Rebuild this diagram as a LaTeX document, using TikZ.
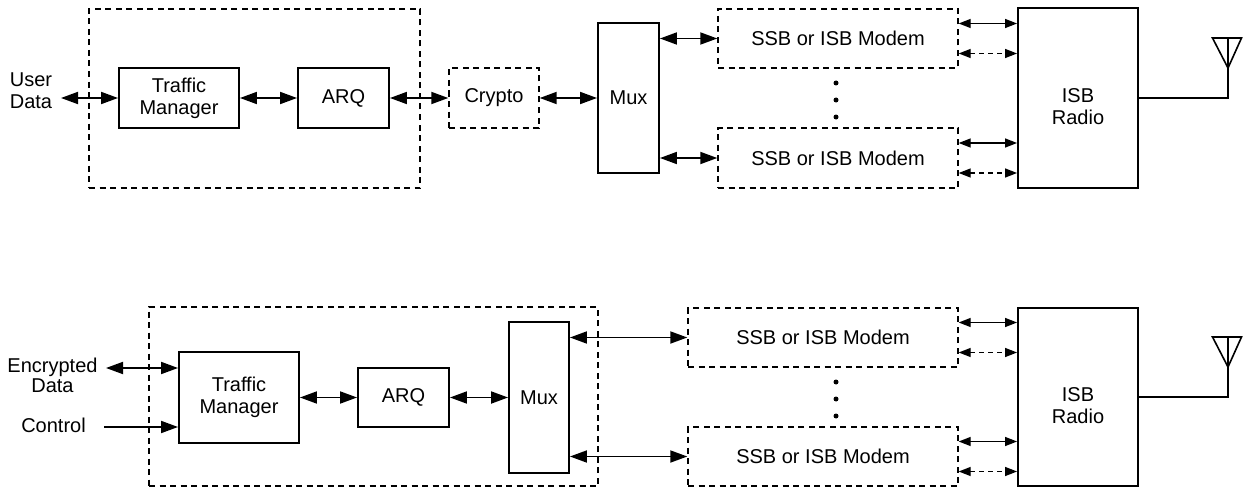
\documentclass[tikz,border=0pt]{standalone}
\usepackage{fontspec}
\setmainfont{Liberation Sans}
\usetikzlibrary{arrows.meta}
\tikzset{
  txt/.style={font=\fontsize{20}{22}\selectfont, align=center, inner sep=0pt},
  sbox/.style={draw, line width=1.9pt, txt},
  dbox/.style={draw, line width=1.4pt, dash pattern=on 6pt off 4.5pt, txt},
  bigarr/.style={line width=1.8pt, {Triangle[length=17pt,width=12pt]}-{Triangle[length=17pt,width=12pt]}},
  onearr/.style={line width=1.8pt, -{Triangle[length=17pt,width=12pt]}},
  smallarr/.style={line width=1.4pt, {Triangle[length=12pt,width=9pt]}-{Triangle[length=12pt,width=9pt]}},
  smalldarr/.style={smallarr, dash pattern=on 5pt off 4pt},
  wire/.style={line width=1.6pt},
  dotn/.style={circle, fill, inner sep=0pt, minimum size=5pt},
}
\begin{document}
\begin{tikzpicture}[x=1pt, y=-1pt]
\useasboundingbox (0,0) rectangle (1243,487);

% ---------------- top diagram ----------------
\node[dbox, minimum width=331, minimum height=179] (outer1) at (254.5,98.5) {};
\node[sbox, minimum width=120, minimum height=60] (tm1) at (179,98) {Traffic\\Manager};
\node[sbox, minimum width=91, minimum height=60] (arq1) at (343.5,98) {ARQ};
\node[dbox, minimum width=90, minimum height=60] (crypto) at (494,98) {Crypto};
\node[sbox, minimum width=61, minimum height=150] (mux1) at (628.5,98) {Mux};
\node[dbox, minimum width=240, minimum height=59] (modA1) at (838,38.5) {SSB or ISB Modem};
\node[dbox, minimum width=240, minimum height=60] (modB1) at (838,158) {SSB or ISB Modem};
\node[sbox, minimum width=120, minimum height=180,
      label={[txt, yshift=-8.5pt]center:ISB\\Radio}] (radio1) at (1078,98) {};
\node[txt] (user) at (31,90.5) {User\\Data};
\coordinate (ud) at (61,98);

\coordinate (a1s) at ([yshift=15pt]modA1.east);
\coordinate (a1d) at ([yshift=-15pt]modA1.east);
\coordinate (b1s) at ([yshift=15pt]modB1.east);
\coordinate (b1d) at ([yshift=-15pt]modB1.east);

\draw[bigarr] (ud) -- (tm1.west);
\draw[bigarr] (tm1.east) -- (arq1.west);
\draw[bigarr] (arq1.east) -- (crypto.west);
\draw[bigarr] (crypto.east) -- (mux1.west);
\draw[bigarr] (mux1.east |- modA1.west) -- (modA1.west);
\draw[bigarr] (mux1.east |- modB1.west) -- (modB1.west);
\draw[smallarr] (a1s) -- (radio1.west |- a1s);
\draw[smalldarr] (a1d) -- (radio1.west |- a1d);
\draw[smallarr] (b1s) -- (radio1.west |- b1s);
\draw[smalldarr] (b1d) -- (radio1.west |- b1d);

\node[dotn] (dA1) at (836,83) {};
\node[dotn] (dB1) at (836,100) {};
\node[dotn] (dC1) at (836,117) {};

\coordinate (ant1) at (1228,38);
\draw[wire] (radio1.east) -| (ant1);
\draw[wire, line join=miter] (1212.5,38) -- (1241.5,38) -- (1228,68) -- cycle;

% ---------------- bottom diagram ----------------
\node[dbox, minimum width=449, minimum height=179] (outer2) at (373.5,396.5) {};
\node[sbox, minimum width=120, minimum height=91] (tm2) at (239,397.5) {Traffic\\Manager};
\node[sbox, minimum width=91, minimum height=59] (arq2) at (403.5,397.5) {ARQ};
\node[sbox, minimum width=60, minimum height=151] (mux2) at (539,397.5) {Mux};
\node[dbox, minimum width=270, minimum height=59] (modA2) at (823,337.5) {SSB or ISB Modem};
\node[dbox, minimum width=270, minimum height=59] (modB2) at (823,456.5) {SSB or ISB Modem};
\node[sbox, minimum width=120, minimum height=178,
      label={[txt, yshift=-8.5pt]center:ISB\\Radio}] (radio2) at (1078,397) {};
\node[txt, font=\fontsize{20}{20}\selectfont] (enc) at (52.5,375) {Encrypted\\Data};
\node[txt] (ctl) at (53.5,425) {Control};
\coordinate (ed) at (106,368);
\coordinate (cs) at (104,427);

\coordinate (a2s) at ([yshift=15pt]modA2.east);
\coordinate (a2d) at ([yshift=-15pt]modA2.east);
\coordinate (b2s) at ([yshift=15pt]modB2.east);
\coordinate (b2d) at ([yshift=-15pt]modB2.east);

\draw[bigarr] (ed) -- (tm2.west |- ed);
\draw[onearr] (cs) -- (tm2.west |- cs);
\draw[bigarr] (tm2.east) -- (arq2.west);
\draw[bigarr] (arq2.east) -- (mux2.west);
\draw[bigarr] (mux2.east |- modA2.west) -- (modA2.west);
\draw[bigarr] (mux2.east |- modB2.west) -- (modB2.west);
\draw[smallarr] (a2s) -- (radio2.west |- a2s);
\draw[smalldarr] (a2d) -- (radio2.west |- a2d);
\draw[smallarr] (b2s) -- (radio2.west |- b2s);
\draw[smalldarr] (b2d) -- (radio2.west |- b2d);

\node[dotn] (dA2) at (836,382) {};
\node[dotn] (dB2) at (836,399) {};
\node[dotn] (dC2) at (836,416) {};

\coordinate (ant2) at (1228,337);
\draw[wire] (radio2.east) -| (ant2);
\draw[wire, line join=miter] (1212.5,337) -- (1241.5,337) -- (1228,367) -- cycle;
\end{tikzpicture}
\end{document}
